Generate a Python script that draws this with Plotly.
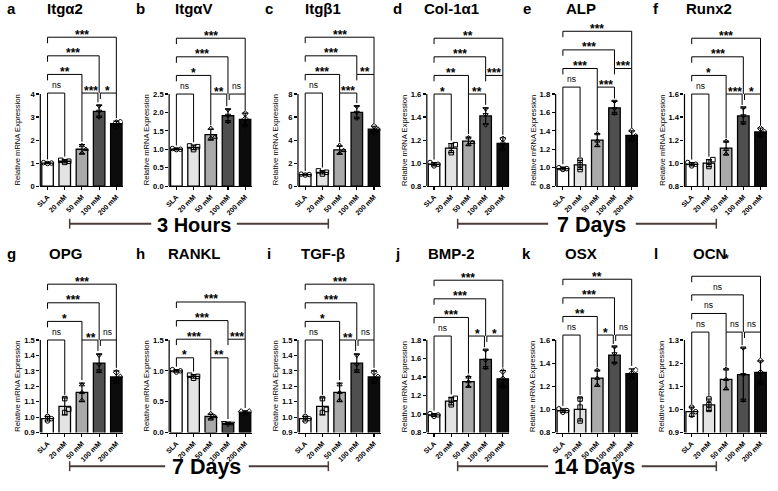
import plotly.graph_objects as go

W, H = 778, 491

categories = ["SLA", "20 mM", "50 mM", "100 mM", "200 mM"]
genes = ["Itgα2", "ItgαV", "Itgβ1", "Col-1α1", "ALP", "Runx2",
         "OPG", "RANKL", "TGF-β", "BMP-2", "OSX", "OCN"]
letters = ["a", "b", "c", "d", "e", "f", "g", "h", "i", "j", "k", "l"]

# ---------------- data ----------------
itga2_mean = [1.00, 1.08, 1.60, 3.25, 2.71]
itga2_sd = [0.03, 0.07, 0.20, 0.26, 0.11]
itga2_pts = [[0.98, 1.00, 1.02], [1.03, 1.08, 1.12], [1.44, 1.60, 1.76], [3.00, 3.25, 3.48], [2.58, 2.76, 2.79]]
itga2_ticks = [0, 1, 2, 3, 4]
itga2_ticktext = ["0", "1", "2", "3", "4"]
itga2_comp = [(0, 1, "ns", 0), (2, 3, "***", 0), (3, 4, "*", 0), (0, 2, "**", 1), (0, 3, "***", 2), (0, 4, "***", 3)]

itgav_mean = [1.00, 1.05, 1.40, 1.91, 1.81]
itgav_sd = [0.02, 0.06, 0.15, 0.18, 0.17]
itgav_pts = [[0.99, 1.00, 1.02], [0.99, 1.07, 1.09], [1.30, 1.33, 1.57], [1.75, 1.92, 2.07], [1.64, 1.83, 1.97]]
itgav_ticks = [0.0, 0.5, 1.0, 1.5, 2.0, 2.5]
itgav_ticktext = ["0.0", "0.5", "1.0", "1.5", "2.0", "2.5"]
itgav_comp = [(0, 1, "ns", 0), (2, 3, "**", 0), (3, 4, "ns", 0), (0, 2, "*", 1), (0, 3, "***", 2), (0, 4, "***", 3)]

itgb1_mean = [1.00, 1.20, 3.15, 6.40, 4.95]
itgb1_sd = [0.05, 0.15, 0.35, 0.55, 0.25]
itgb1_pts = [[0.96, 1.00, 1.04], [1.05, 1.20, 1.32], [2.85, 3.10, 3.55], [5.90, 6.40, 6.90], [4.75, 4.90, 5.20]]
itgb1_ticks = [0, 2, 4, 6, 8]
itgb1_ticktext = ["0", "2", "4", "6", "8"]
itgb1_comp = [(0, 1, "ns", 0), (2, 3, "***", 0), (0, 2, "***", 1), (3, 4, "**", 1), (0, 3, "***", 2), (0, 4, "***", 3)]

col1_mean = [0.99, 1.13, 1.19, 1.41, 1.17]
col1_sd = [0.015, 0.04, 0.035, 0.07, 0.05]
col1_pts = [[0.975, 0.99, 1.005], [1.09, 1.15, 1.16], [1.16, 1.18, 1.22], [1.33, 1.42, 1.47], [1.12, 1.17, 1.21]]
col1_ticks = [0.8, 1.0, 1.2, 1.4, 1.6]
col1_ticktext = ["0.8", "1.0", "1.2", "1.4", "1.6"]
col1_comp = [(0, 1, "*", 0), (2, 3, "**", 0), (0, 2, "**", 1), (3, 4, "***", 1), (0, 3, "***", 2), (0, 4, "**", 3)]

alp_mean = [0.99, 1.03, 1.30, 1.65, 1.35]
alp_sd = [0.015, 0.05, 0.07, 0.07, 0.05]
alp_pts = [[0.98, 0.99, 1.00], [0.98, 1.03, 1.08], [1.24, 1.29, 1.37], [1.59, 1.64, 1.72], [1.30, 1.34, 1.40]]
alp_ticks = [0.8, 1.0, 1.2, 1.4, 1.6, 1.8]
alp_ticktext = ["0.8", "1.0", "1.2", "1.4", "1.6", "1.8"]
alp_comp = [(0, 1, "ns", 0), (2, 3, "***", 0), (0, 2, "***", 1), (3, 4, "***", 1), (0, 3, "***", 2), (0, 4, "***", 3)]

runx2_mean = [0.99, 1.00, 1.13, 1.41, 1.27]
runx2_sd = [0.015, 0.03, 0.06, 0.07, 0.035]
runx2_pts = [[0.975, 0.99, 1.005], [0.97, 1.01, 1.03], [1.08, 1.12, 1.19], [1.35, 1.41, 1.48], [1.24, 1.27, 1.30]]
runx2_ticks = [0.8, 1.0, 1.2, 1.4, 1.6]
runx2_ticktext = ["0.8", "1.0", "1.2", "1.4", "1.6"]
runx2_comp = [(0, 1, "ns", 0), (2, 3, "***", 0), (3, 4, "*", 0), (0, 2, "*", 1), (0, 3, "***", 2), (0, 4, "***", 3)]

opg_mean = [0.99, 1.07, 1.16, 1.35, 1.26]
opg_sd = [0.015, 0.055, 0.06, 0.06, 0.04]
opg_pts = [[0.975, 0.99, 1.005], [1.03, 1.05, 1.12], [1.11, 1.16, 1.21], [1.30, 1.34, 1.40], [1.24, 1.26, 1.29]]
opg_ticks = [0.9, 1.0, 1.1, 1.2, 1.3, 1.4, 1.5]
opg_ticktext = ["0.9", "1.0", "1.1", "1.2", "1.3", "1.4", "1.5"]
opg_comp = [(0, 1, "ns", 0), (2, 3, "**", 0), (3, 4, "ns", 0), (0, 2, "*", 1), (0, 3, "***", 2), (0, 4, "***", 3)]

rankl_mean = [1.00, 0.91, 0.26, 0.15, 0.33]
rankl_sd = [0.02, 0.03, 0.04, 0.02, 0.02]
rankl_pts = [[0.98, 1.00, 1.02], [0.88, 0.91, 0.93], [0.22, 0.26, 0.31], [0.13, 0.15, 0.16], [0.31, 0.34, 0.34]]
rankl_ticks = [0.0, 0.5, 1.0, 1.5]
rankl_ticktext = ["0.0", "0.5", "1.0", "1.5"]
rankl_comp = [(0, 1, "*", 0), (2, 3, "**", 0), (0, 2, "***", 1), (3, 4, "***", 1), (0, 3, "***", 2), (0, 4, "***", 3)]

tgfb_mean = [0.99, 1.07, 1.16, 1.35, 1.26]
tgfb_sd = [0.015, 0.055, 0.06, 0.06, 0.04]
tgfb_pts = [[0.975, 0.99, 1.005], [1.03, 1.05, 1.12], [1.11, 1.16, 1.21], [1.30, 1.34, 1.40], [1.24, 1.26, 1.29]]
tgfb_ticks = [0.9, 1.0, 1.1, 1.2, 1.3, 1.4, 1.5]
tgfb_ticktext = ["0.9", "1.0", "1.1", "1.2", "1.3", "1.4", "1.5"]
tgfb_comp = [(0, 1, "ns", 0), (2, 3, "**", 0), (3, 4, "ns", 0), (0, 2, "*", 1), (0, 3, "***", 2), (0, 4, "***", 3)]

bmp2_mean = [0.99, 1.14, 1.35, 1.59, 1.38]
bmp2_sd = [0.015, 0.04, 0.055, 0.10, 0.09]
bmp2_pts = [[0.975, 0.99, 1.005], [1.10, 1.15, 1.17], [1.30, 1.35, 1.40], [1.50, 1.58, 1.69], [1.30, 1.38, 1.46]]
bmp2_ticks = [0.8, 1.0, 1.2, 1.4, 1.6, 1.8]
bmp2_ticktext = ["0.8", "1.0", "1.2", "1.4", "1.6", "1.8"]
bmp2_comp = [(0, 1, "ns", 0), (2, 3, "*", 0), (3, 4, "*", 0), (0, 2, "***", 1), (0, 3, "***", 2), (0, 4, "***", 3)]

osx_mean = [0.99, 1.00, 1.27, 1.47, 1.31]
osx_sd = [0.015, 0.10, 0.07, 0.07, 0.04]
osx_pts = [[0.975, 0.99, 1.005], [0.90, 1.02, 1.09], [1.21, 1.27, 1.34], [1.40, 1.48, 1.54], [1.27, 1.31, 1.34]]
osx_ticks = [0.8, 1.0, 1.2, 1.4, 1.6]
osx_ticktext = ["0.8", "1.0", "1.2", "1.4", "1.6"]
osx_comp = [(0, 1, "ns", 0), (2, 3, "*", 0), (3, 4, "ns", 0), (0, 2, "**", 1), (0, 3, "***", 2), (0, 4, "**", 3)]

ocn_mean = [0.99, 1.02, 1.13, 1.15, 1.16]
ocn_sd = [0.02, 0.025, 0.045, 0.115, 0.05]
ocn_pts = [[0.975, 0.99, 1.01], [1.00, 1.02, 1.045], [1.09, 1.13, 1.175], [1.04, 1.15, 1.265], [1.12, 1.16, 1.21]]
ocn_ticks = [0.9, 1.0, 1.1, 1.2, 1.3]
ocn_ticktext = ["0.9", "1.0", "1.1", "1.2", "1.3"]
ocn_comp = [(0, 1, "ns", 0), (2, 3, "ns", 0), (3, 4, "ns", 0), (0, 2, "ns", 1), (0, 3, "ns", 2), (0, 4, "*", 3)]

timeline_labels = ["3 Hours", "7 Days", "7 Days", "14 Days"]

means = [itga2_mean, itgav_mean, itgb1_mean, col1_mean, alp_mean, runx2_mean,
         opg_mean, rankl_mean, tgfb_mean, bmp2_mean, osx_mean, ocn_mean]
sds = [itga2_sd, itgav_sd, itgb1_sd, col1_sd, alp_sd, runx2_sd,
       opg_sd, rankl_sd, tgfb_sd, bmp2_sd, osx_sd, ocn_sd]
points = [itga2_pts, itgav_pts, itgb1_pts, col1_pts, alp_pts, runx2_pts,
          opg_pts, rankl_pts, tgfb_pts, bmp2_pts, osx_pts, ocn_pts]
ticks = [itga2_ticks, itgav_ticks, itgb1_ticks, col1_ticks, alp_ticks, runx2_ticks,
         opg_ticks, rankl_ticks, tgfb_ticks, bmp2_ticks, osx_ticks, ocn_ticks]
ticktexts = [itga2_ticktext, itgav_ticktext, itgb1_ticktext, col1_ticktext, alp_ticktext, runx2_ticktext,
             opg_ticktext, rankl_ticktext, tgfb_ticktext, bmp2_ticktext, osx_ticktext, ocn_ticktext]
comps = [itga2_comp, itgav_comp, itgb1_comp, col1_comp, alp_comp, runx2_comp,
         opg_comp, rankl_comp, tgfb_comp, bmp2_comp, osx_comp, ocn_comp]

# ---------------- styling / layout constants ----------------
FONT = "Arial, Liberation Sans, sans-serif"
bar_colors = ["#ffffff", "#e3e3e3", "#a9a9a9", "#4f4f4f", "#0c0c0c"]
symbols = ["circle-open", "square-open", "triangle-up-open", "triangle-down-open", "diamond-open"]
XR = [-0.42, 4.38]
PLOT_W = 83.0
CAT_PX = PLOT_W / (XR[1] - XR[0])
row_bottom = [188.0, 437.0]
row_toptick = [95.0, 343.5]
row_domtop = [14.0, 250.0]
row_title_y = [9.0, 256.0]
bracket_base = [1, 0, 1, 0, 7, 0, 0, -18, 0, 4, 5, 8]
STEP = 18.8
label_extra = {(11, 5): 15}   # the lone "*" of panel l sits high
line_color = "#4a3c38"

# timeline bar geometry (pixels): line ends, line y, text left/right edges, font size
tl_x = [(66, 326), (456, 716), (66, 326), (456, 716)]
tl_y = [226, 226, 471, 471]
tl_text_span = [(153, 228), (552, 629), (167, 240), (552, 635)]
tl_font = [20, 21.5, 21.5, 21.5]


def pxx(X):
    """screen x pixel -> paper coordinate"""
    return X / W


def pxy(Y):
    """screen y pixel -> paper coordinate"""
    return 1 - Y / H


fig = go.Figure()
shapes = []
annotations = []
layout_axes = {}

for p in range(12):
    row, col = divmod(p, 6)
    n = p + 1
    xa = "x" if n == 1 else f"x{n}"
    ya = "y" if n == 1 else f"y{n}"
    axis_px = 36.5 + 129.5 * col
    bottom_px = row_bottom[row]
    toptick_px = row_toptick[row]
    domtop_px = row_domtop[row]
    t = ticks[p]
    upp = (t[-1] - t[0]) / (bottom_px - toptick_px)
    yr = [t[0], t[0] + (bottom_px - domtop_px) * upp]

    def y2px(v, t=t, upp=upp, bottom_px=bottom_px):
        return bottom_px - (v - t[0]) / upp

    def px2y(px, t=t, upp=upp, bottom_px=bottom_px):
        return t[0] + (bottom_px - px) * upp

    layout_axes["xaxis" if n == 1 else f"xaxis{n}"] = dict(
        domain=[pxx(axis_px), pxx(axis_px + PLOT_W)], anchor=ya, range=XR,
        tickvals=list(range(5)), ticktext=categories, tickangle=-45,
        ticks="outside", ticklen=3, tickwidth=1.1, tickcolor="black",
        showline=True, linecolor="black", linewidth=1.2, showgrid=False, zeroline=False,
        tickfont=dict(family=FONT, size=7, color="black", weight="bold"), fixedrange=True)
    layout_axes["yaxis" if n == 1 else f"yaxis{n}"] = dict(
        domain=[pxy(bottom_px), pxy(domtop_px)], anchor=xa, range=yr,
        tickvals=t, ticktext=ticktexts[p], ticks="outside", ticklen=3, tickwidth=1.1,
        tickcolor="black", showline=False, showgrid=False, zeroline=False,
        tickfont=dict(family=FONT, size=7.6, color="black", weight="bold"), fixedrange=True)

    m, s, pts = means[p], sds[p], points[p]
    fig.add_trace(go.Bar(
        x=list(range(5)), y=m, width=0.67, xaxis=xa, yaxis=ya,
        marker=dict(color=bar_colors, line=dict(color="black", width=1.3)),
        error_y=dict(type="data", array=s, visible=True, color="black", thickness=1.2, width=3),
        showlegend=False, hoverinfo="skip"))

    # scatter points with simple de-overlap
    px_, py_, ps_ = [], [], []
    for c in range(5):
        placed = []
        for v in pts[c]:
            vpx = y2px(v)
            for off in [0, 4, -4, 8, -8]:
                if all(abs(off - o) >= 4 or abs(vpx - q) >= 4 for o, q in placed):
                    break
            placed.append((off, vpx))
            px_.append(c + off / CAT_PX)
            py_.append(v)
            ps_.append(symbols[c])
    fig.add_trace(go.Scatter(
        x=px_, y=py_, mode="markers", xaxis=xa, yaxis=ya, showlegend=False, hoverinfo="skip",
        marker=dict(symbol=ps_, size=4.5, color="black", line=dict(color="black", width=1))))

    # y axis line (only over the tick span)
    shapes.append(dict(type="line", xref=f"{xa} domain", yref=ya, x0=0, x1=0, y0=t[0], y1=t[-1],
                       line=dict(color="black", width=1.2)))

    # significance brackets
    col_top = [y2px(max(m[c] + s[c], max(pts[c]))) for c in range(5)]
    last_line = [None] * 5
    cp = comps[p]
    for k, (i, j, lab, lev) in sorted(enumerate(cp), key=lambda e: (e[1][3], e[1][0])):
        line_px = toptick_px - (bracket_base[p] + lev * STEP)
        xs = {}
        for end, side in ((i, "L"), (j, "R")):
            off = 0.0
            if side == "L" and any(c2[1] == end and c2[3] == lev for c2 in cp):
                off = 0.07
            if side == "R" and any(c2[0] == end and c2[3] == lev for c2 in cp):
                off = -0.07
            xe = end + off
            xs[side] = xe
            if last_line[end] is None:
                bot = max(col_top[end] - 3, line_px + 3)
            elif side == "L":
                bot = line_px + 6
            else:
                bot = last_line[end]
            shapes.append(dict(type="line", xref=xa, yref=ya, x0=xe, x1=xe,
                               y0=px2y(line_px), y1=px2y(bot), line=dict(color="black", width=1)))
        shapes.append(dict(type="line", xref=xa, yref=ya, x0=xs["L"], x1=xs["R"],
                           y0=px2y(line_px), y1=px2y(line_px), line=dict(color="black", width=1)))
        last_line[i] = line_px
        last_line[j] = line_px
        is_ns = lab == "ns"
        ysh = (1 if is_ns else -6.5) + label_extra.get((p, k), 0)
        annotations.append(dict(
            x=(i + j) / 2, y=px2y(line_px), xref=xa, yref=ya, text=lab, showarrow=False,
            yanchor="bottom", xanchor="center", yshift=ysh,
            font=dict(family=FONT, size=8.5 if is_ns else 12, color="black",
                      weight="normal" if is_ns else "bold")))

    # y axis title
    annotations.append(dict(
        x=pxx(axis_px - 23), y=(t[0] + t[-1]) / 2, xref="paper", yref=ya,
        text="Relative mRNA Expression", textangle=-90, showarrow=False,
        xanchor="center", yanchor="middle",
        font=dict(family=FONT, size=7.6, color="black")))
    # panel title and letter
    annotations.append(dict(
        x=pxx(axis_px + 25), y=pxy(row_title_y[row]), xref="paper", yref="paper",
        text=genes[p], showarrow=False, xanchor="center", yanchor="middle",
        font=dict(family=FONT, size=15, color="black", weight="bold")))
    annotations.append(dict(
        x=pxx(axis_px - 29), y=pxy(row_title_y[row]), xref="paper", yref="paper",
        text=letters[p], showarrow=False, xanchor="center", yanchor="middle",
        font=dict(family=FONT, size=15, color="black", weight="bold")))

# timeline bars: two line segments around the label, with end ticks
for (x0, x1), yy, (t0, t1), fs, lab in zip(tl_x, tl_y, tl_text_span, tl_font, timeline_labels):
    for a, b in ((x0, t0 - 5), (t1 + 6, x1)):
        shapes.append(dict(type="line", xref="paper", yref="paper", x0=pxx(a), x1=pxx(b),
                           y0=pxy(yy), y1=pxy(yy), line=dict(color=line_color, width=2)))
    for xe in (x0, x1):
        shapes.append(dict(type="line", xref="paper", yref="paper", x0=pxx(xe), x1=pxx(xe),
                           y0=pxy(yy - 5), y1=pxy(yy + 5), line=dict(color=line_color, width=1.5)))
    annotations.append(dict(
        x=pxx((t0 + t1) / 2), y=pxy(yy + 1), xref="paper", yref="paper", text=lab,
        showarrow=False, xanchor="center", yanchor="middle",
        font=dict(family=FONT, size=fs, color="black", weight="bold")))

fig.update_layout(
    width=W, height=H, margin=dict(l=0, r=0, t=0, b=0),
    paper_bgcolor="white", plot_bgcolor="rgba(0,0,0,0)",
    shapes=shapes, annotations=annotations, bargap=0, showlegend=False,
    font=dict(family=FONT, color="black"), hovermode=False,
    **layout_axes)

fig.write_html("out.html", config={"displayModeBar": False, "staticPlot": True},
               post_script="document.body.style.margin='0';document.body.style.overflow='hidden';")
